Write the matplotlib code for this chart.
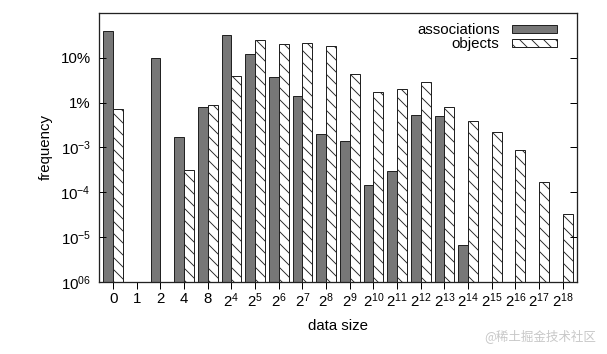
import matplotlib.pyplot as plt
import numpy as np

plt.rcParams['font.family'] = ['Liberation Sans', 'DejaVu Sans']
plt.rcParams['mathtext.fontset'] = 'custom'
plt.rcParams['mathtext.rm'] = 'Liberation Sans'
plt.rcParams['mathtext.it'] = 'Liberation Sans'
plt.rcParams['hatch.linewidth'] = 0.9

categories = ['0', '1', '2', '4', '8'] + ['$2^{%d}$' % k for k in range(4, 19)]
associations = [0.39, np.nan, 0.1, 1.73e-3, 7.9e-3, 0.33, 0.119, 0.0366, 0.0141, 1.98e-3,
                1.39e-3, 1.41e-4, 3.0e-4, 5.25e-3, 5.0e-3, 5.7e-6,
                np.nan, np.nan, np.nan, np.nan]
objects = [7.1e-3, np.nan, np.nan, 3.15e-4, 8.7e-3, 0.039, 0.244, 0.199, 0.212, 0.182,
           0.0428, 0.0175, 0.0205, 0.0293, 8.15e-3, 3.9e-3,
           2.23e-3, 8.7e-4, 1.67e-4, 3.2e-5]
ytick_vals = [1e-6, 1e-5, 1e-4, 1e-3, 1e-2, 1e-1]
ytick_labels = ['10$^{06}$', '10$^{-5}$', '10$^{-4}$', '10$^{-3}$', '1%', '10%']

fig = plt.figure(figsize=(607 / 72, 354 / 72), dpi=72)
ax = fig.add_axes([0.163, 0.2042, 0.7876, 0.7591])

x = np.arange(len(categories))
w = 0.41
ax.bar(x - w / 2, associations, w, bottom=1e-6, color='#777777', edgecolor='#222222',
       linewidth=1.0, label='associations')
ax.bar(x + w / 2, objects, w, bottom=1e-6, color='white', edgecolor='#222222',
       linewidth=1.0, hatch='\\\\', label='objects')

ax.set_yscale('log')
ax.set_ylim(1e-6, 1)
ax.set_xlim(-0.6, len(categories) - 0.4)
ax.set_yticks(ytick_vals)
ax.set_yticklabels(ytick_labels)
ax.minorticks_off()
ax.set_xticks(x)
ax.set_xticklabels(categories)

ax.tick_params(axis='y', direction='in', right=True, length=7, width=1, labelsize=15, pad=8)
ax.tick_params(axis='x', direction='out', length=7, width=1, labelsize=15, pad=3)
for s in ax.spines.values():
    s.set_linewidth(1.3)
    s.set_color('#222222')

ax.set_ylabel('frequency', fontsize=15, labelpad=8)
ax.set_xlabel('data size', fontsize=15, labelpad=9)

ax.legend(loc='upper right', bbox_to_anchor=(0.976, 0.995), frameon=False, markerfirst=False,
          fontsize=15, handlelength=3.0, handleheight=0.4, labelspacing=0.0,
          borderaxespad=0.2, handletextpad=0.8)

fig.text(0.982, 0.05, '@稀土掘金技术社区', ha='right', va='center', fontsize=12.5,
         color='#c8c8c8', family=['Noto Sans CJK SC', 'DejaVu Sans'])

plt.savefig('out.png', dpi=72)
